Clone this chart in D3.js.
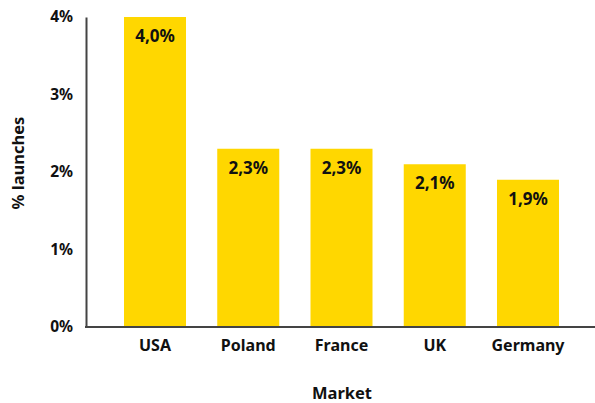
<!DOCTYPE html>
<html>
<head>
<meta charset="utf-8">
<script src="https://cdn.jsdelivr.net/npm/d3@7"></script>
<style>
  html, body { margin: 0; padding: 0; background: #fff; }
  svg text { font-family: "Open Sans", "Noto Sans", sans-serif; font-weight: 700; fill: #111; }
</style>
</head>
<body>
<svg id="chart" width="595" height="403"></svg>
<script>
// Share of launches by market (%)
const markets = ["USA", "Poland", "France", "UK", "Germany"];
const shares = [4.0, 2.3, 2.3, 2.1, 1.9];
const yTicks = [0, 1, 2, 3, 4];

(function () {
  const svg = d3.select("#chart");
  const mLeft = 86, mRight = 595, mTop = 17, mBottom = 327;
  const fontStack = "'Noto Sans', 'Open Sans', sans-serif";

  const x = d3.scaleBand()
    .domain(markets)
    .range([mLeft, mLeft + 511])
    .paddingInner(0.335)
    .paddingOuter(0.4075);

  const y = d3.scaleLinear().domain([0, 4]).range([mBottom, mTop]);

  const fmt = v => v.toFixed(1).replace(".", ",") + "%";

  // Bars
  svg.append("g").selectAll("rect")
    .data(markets)
    .join("rect")
    .attr("x", d => x(d))
    .attr("y", (d, i) => y(shares[i]))
    .attr("width", x.bandwidth())
    .attr("height", (d, i) => mBottom - y(shares[i]))
    .attr("fill", "#FFD700");

  // Value labels inside the bars
  svg.append("g").selectAll("text")
    .data(markets)
    .join("text")
    .attr("x", d => x(d) + x.bandwidth() / 2)
    .attr("y", (d, i) => y(shares[i]) + 25)
    .attr("text-anchor", "middle")
    .attr("font-size", 17)
    .style("font-family", fontStack)
    .text((d, i) => fmt(shares[i]));

  // Y axis
  const yAxis = svg.append("g")
    .attr("transform", `translate(${mLeft},0)`)
    .call(d3.axisLeft(y).tickValues(yTicks).tickSize(0).tickPadding(13).tickFormat(d => d + "%"));
  yAxis.select(".domain").attr("stroke", "#444").attr("stroke-width", 2);
  yAxis.selectAll("text").attr("font-size", 15.5).style("font-family", fontStack).style("font-weight", 700).attr("fill", "#111");

  // X axis
  const xAxis = svg.append("g")
    .attr("transform", `translate(0,${mBottom})`)
    .call(d3.axisBottom(x).tickSize(0).tickPadding(13));
  xAxis.select(".domain").attr("d", `M${mLeft - 1},0H${mRight}`).attr("stroke", "#444").attr("stroke-width", 2);
  xAxis.selectAll("text").attr("font-size", 16).style("font-family", fontStack).style("font-weight", 700).attr("fill", "#111");

  // Axis titles
  svg.append("text")
    .attr("x", 342).attr("y", 399)
    .attr("text-anchor", "middle")
    .attr("font-size", 16.5)
    .style("font-family", fontStack)
    .text("Market");

  svg.append("text")
    .attr("transform", "translate(24,163) rotate(-90)")
    .attr("text-anchor", "middle")
    .attr("font-size", 16.5)
    .style("font-family", fontStack)
    .text("% launches");
})();
</script>
</body>
</html>
